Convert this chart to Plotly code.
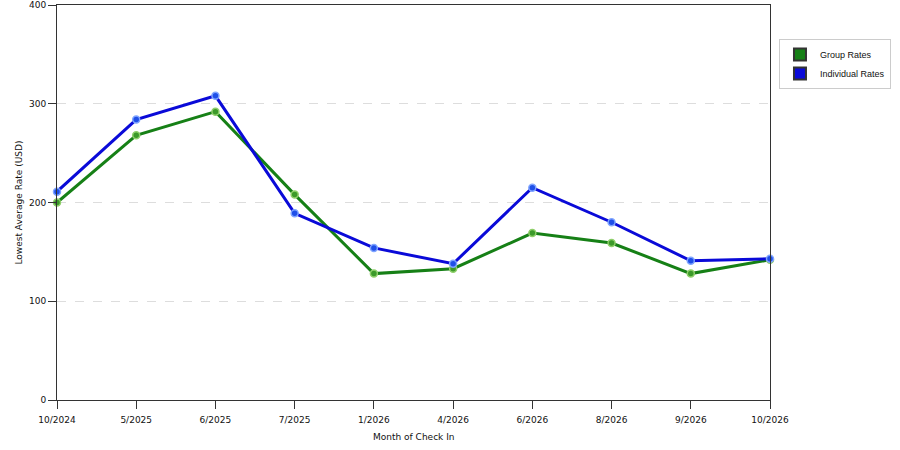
import plotly.graph_objects as go

# ---------------------------------------------------------------
# data
# ---------------------------------------------------------------
months = ['10/2024', '5/2025', '6/2025', '7/2025', '1/2026',
          '4/2026', '6/2026', '8/2026', '9/2026', '10/2026']
group_rates = [200, 268, 292, 208, 128, 133, 169, 159, 128, 142]
individual_rates = [211, 284, 308, 189, 154, 138, 215, 180, 141, 143]

series = [
    ('Group Rates', group_rates, '#168016', '#3c9a2a', '#8fcf6a'),
    ('Individual Rates', individual_rates, '#0a0ad8', '#1f4fe8', '#7fa4ff'),
]

fig = go.Figure()

# the drawn lines (legend comes from the square swatches below)
for name, vals, line_col, fill_col, edge_col in series:
    fig.add_trace(go.Scatter(
        x=months, y=vals, name=name, mode='lines+markers',
        line=dict(color=line_col, width=3),
        marker=dict(size=7, color=fill_col, line=dict(color=edge_col, width=1.5)),
        showlegend=False, cliponaxis=False,
    ))

# square legend swatches
for name, vals, line_col, fill_col, edge_col in series:
    fig.add_trace(go.Scatter(
        x=[None], y=[None], name=name, mode='markers',
        marker=dict(symbol='square', size=12, color=line_col,
                    line=dict(color='#333333', width=0.5)),
    ))

fig.update_layout(
    width=900, height=450,
    margin=dict(l=57, r=130, t=5, b=50),
    paper_bgcolor='white', plot_bgcolor='white',
    font=dict(family='DejaVu Sans', size=9, color='#111111'),
    legend=dict(
        x=1.0126, y=0.914, xanchor='left', yanchor='top',
        bordercolor='#cccccc', borderwidth=1,
        font=dict(family='Liberation Sans', size=9), itemsizing='constant',
        itemwidth=30, tracegroupgap=2,
    ),
    # axis titles as annotations so they sit where the reference has them
    annotations=[
        dict(text='Lowest Average Rate (USD)', textangle=-90,
             xref='paper', yref='paper', x=(18 - 57) / 713, y=0.5,
             xanchor='center', yanchor='middle', showarrow=False,
             font=dict(size=9)),
        dict(text='Month of Check In',
             xref='paper', yref='paper', x=0.5, y=(400 - 437) / 395,
             xanchor='center', yanchor='middle', showarrow=False,
             font=dict(size=9)),
    ],
)

fig.update_xaxes(
    type='category', range=[0, len(months) - 1], automargin=False,
    showline=True, linecolor='#333333', linewidth=1, mirror=True,
    ticks='outside', ticklen=8, tickcolor='#333333', ticklabelstandoff=3,
    showgrid=False, zeroline=False,
)
fig.update_yaxes(
    range=[0, 400], dtick=100, automargin=False,
    showline=True, linecolor='#333333', linewidth=1, mirror=True,
    ticks='outside', ticklen=8, tickcolor='#333333',
    showgrid=True, gridcolor='#dddddd', griddash='dash', gridwidth=1,
    zeroline=False,
)

fig.write_html('out.html', config={'displayModeBar': False},
               post_script="document.body.style.margin='0';")
